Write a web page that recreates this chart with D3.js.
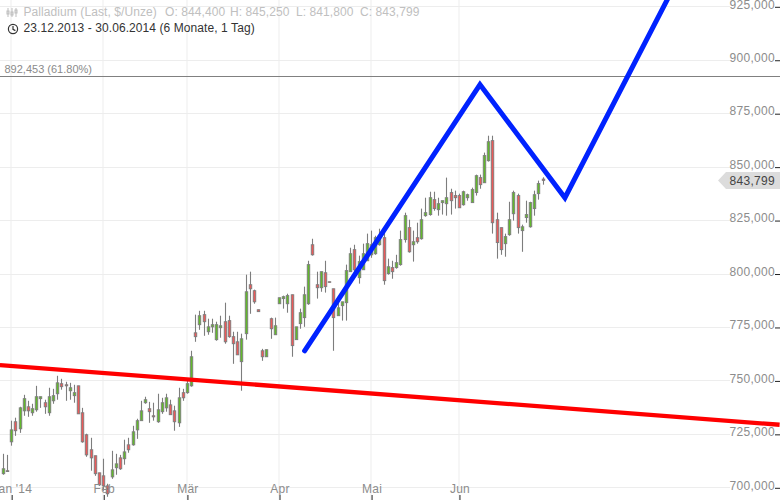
<!DOCTYPE html>
<html><head><meta charset="utf-8">
<script src="https://cdn.jsdelivr.net/npm/d3@7"></script>
<style>html,body{margin:0;padding:0;background:#fff}svg{display:block}text{font-family:"Liberation Sans",Arial,sans-serif}</style>
</head><body><div id="c"></div>
<script>
const opens=[706.6,708,721.5,730.9,727.6,736,737.9,735.1,736.5,741.7,739.8,735.1,740.7,744,748.7,748.2,745.4,743.1,747.7,735.1,724.8,717.8,715,707,705.6,700.9,705.1,709.4,714,713.6,720.1,720.1,727.1,731.4,739.8,737,733.7,730.9,735.6,737.4,738.8,736,730.4,744.5,744.5,747.7,
772.5,776.3,781,773,775.3,769.3,774.9,777.7,778.2,770.7,768.3,759,772.1,795,792.2,783.3,764.1,761.3,779.1,771.6,786.1,788.5,786.1,790.3,769.3,776.8,779.6,786.1,813.7,795,793.6,800.6,796.4,793.1,780.5,785.2,786.6,801.1,811.4,798.3,802,806.2,809,809.5,813.7,817,800.2,803,803,804.4,816.1,821.7,813.7,817,816.5,827.3,827.8,834.8,830.1,833.4,832.9,838.1,836.7,836.7,832.4,835.7,833.4,838.1,845.1,842.7,853,862.4,825.4,821.7,814.2,818.4,828.2,836.7,820.3,826.4,822.1,830.6,837.6,844.4];
const highs=[715.9,715.4,731.4,732.8,737.9,743.5,740.7,739.3,747.7,742.6,741.2,746.8,746.3,752.4,751,749.6,749.1,748.2,747.7,737.4,725.3,723.4,715,707,713.6,701.9,717.3,715.9,715.4,722.5,723.4,729,732.3,740.7,742.6,740.2,739.8,744,742.1,744,741.2,738.4,746.8,746.3,750.1,764.1,
781,782.8,782.8,779.1,779.1,777.7,780.5,786.6,780.5,773,773,772.1,799.7,801.1,792.7,783.3,765,764.6,779.6,779.6,788.9,789.9,790.8,790.3,775.3,783.8,794.1,806.2,816.5,801.1,801.1,806.2,796.4,793.1,787.5,787,804.4,812.3,813.7,808.6,814.2,818.9,820.3,817.9,821.2,820.3,807.2,806.2,809,820.3,828.7,825.4,820.3,824,830.6,835.7,838.5,838.5,835.7,834.3,845.1,839.9,839,837.6,839,837.6,840.4,846.5,846.5,856.8,864.7,864.7,828.7,821.7,818.9,833.8,839,837.6,823.1,834.3,833.8,839,843.7,845.25];
const lows=[706.1,707.5,719.7,724.3,725.7,733.7,733.2,733.7,735.6,737.4,734.6,733.7,739.3,741.2,745.9,740.7,741.2,739.8,734.6,721.1,714.5,708,705.6,700.9,698.6,695.8,704.2,706.1,708.4,710.8,716.4,719.7,722.9,731.4,739.3,730.4,731.4,730.4,734.6,735.6,734.2,726.7,728.5,740.7,744,747.3,
768.3,773.9,771.1,771.6,772.5,768.8,770.2,767.4,770.2,758,762.2,745.4,769.3,781.4,786.1,782.4,759.4,761.3,769.7,771.6,786.1,783.8,781.9,761.3,769.3,774.4,775.3,785.6,808.6,788.5,791.7,791.3,796.1,764.1,780.5,778.2,778.2,801.1,800.6,795.5,802,806.2,807.6,809,813.3,795,799.7,797.8,802.5,803.9,814.7,810,805.8,814.2,816.1,826.8,827.3,829.6,827.3,827.8,827.3,827.8,830.6,831,832,834.3,833.4,836.7,839.9,842.7,852.6,818.9,807.2,809,808.1,817.9,825,818.9,810.4,824,821.7,827.3,834.8,841.8];
const closes=[708.9,707.6,727.1,726.7,737.4,741.7,736,737,742.6,742.6,737.9,742.6,743.1,749.1,747.3,747.7,746.8,744.5,734.6,721.5,715.4,714,706.6,701.4,700.9,697.2,708.4,711.2,708.9,716.8,717.8,726.2,731.4,736,741.2,735.6,733.2,736.5,739.8,742.1,734.2,730.9,742.1,742.1,748.7,761.3,
770.7,780.5,777.7,775.3,776.3,776.3,775.8,768.3,770.7,767.4,762.2,769.7,791.7,793.1,787,782.4,761.3,764.6,774.4,775.8,788.9,789.4,789.9,766.5,775.3,781.9,790.3,804.4,809,793.6,801.1,794.1,796.1,779.6,784.2,787,801.6,809.5,802,805.8,809.5,814.2,813.7,817,817.9,796.9,803.4,801.1,805.3,816.1,827.3,810.4,815.1,815.1,825.4,828.7,835.7,830.6,832.9,834.3,835.7,834.3,835.7,831,838.5,837.1,839.5,846,841.8,855.4,861.9,824,814.7,811.4,817.5,825.4,838.1,821.7,822.1,827.8,833.4,837.1,842.3,843.799];
const priceTicks=[700,725,750,775,800,825,850,875,900,925];
const monthSlots=[2,24,44,66,88,109];
const monthLabels=["Jan '14","Feb","Mär","Apr","Mai","Jun"];
const blueSlots=[72,113.9,134.2,158.8];
const bluePrices=[764.1,888.6,835.7,928.9];
const redSlots=[-0.8,185.5];
const redPrices=[757.4,729.5];
const fibPrice=892.453;
const lastPrice=843.799;

const W=780,H=500;
const fmt=v=>v.toFixed(3).replace(".",",");
const x=d3.scaleLinear().domain([-1,186]).range([-0.886,781.7]);
const y=d3.scaleLinear().domain([700,925]).range([487.8,6.8]);
const svg=d3.select("#c").append("svg").attr("width",W).attr("height",H);
const snap=v=>Math.floor(v)+0.5;

// grid
svg.append("g").selectAll("line").data(priceTicks).join("line")
 .attr("x1",0).attr("x2",W-50).attr("y1",d=>snap(y(d))).attr("y2",d=>snap(y(d))).attr("stroke","#ededed");
svg.append("g").selectAll("line").data(monthSlots).join("line")
 .attr("x1",d=>snap(x(d))-0.5).attr("x2",d=>snap(x(d))-0.5).attr("y1",0).attr("y2",H).attr("stroke","#ededed");

// candles
const idx=d3.range(closes.length);
const G="#7d7d7d";
const c=svg.append("g").selectAll("g").data(idx).join("g");
c.append("line").attr("x1",i=>snap(x(i))).attr("x2",i=>snap(x(i)))
 .attr("y1",i=>y(highs[i])).attr("y2",i=>y(lows[i])).attr("stroke",G).attr("stroke-width",1.1);
c.append("rect").attr("x",i=>snap(x(i))-1.25).attr("width",2.5)
 .attr("y",i=>y(Math.max(opens[i],closes[i])))
 .attr("height",i=>Math.abs(y(opens[i])-y(closes[i])))
 .attr("fill",i=>closes[i]>=opens[i]?"#62b82c":"#ea5a5a").attr("stroke",G).attr("stroke-width",0.9);

// axes
const ya=svg.append("g").attr("transform",`translate(${W},0)`)
 .call(d3.axisLeft(y).tickValues(priceTicks).tickSize(5).tickPadding(0).tickFormat(fmt));
ya.select(".domain").remove();
ya.selectAll("line").attr("stroke","#222");
ya.selectAll("text").attr("fill","#8c8c8c").attr("font-size",12).attr("letter-spacing",0.3).attr("dy","0.1em");
const xa=svg.append("g").attr("transform",`translate(0,${H})`)
 .call(d3.axisTop(x).tickValues(monthSlots).tickSize(5).tickPadding(2).tickFormat((d,i)=>monthLabels[i]));
xa.select(".domain").remove();
xa.selectAll("line").attr("stroke","#222");
xa.selectAll("text").attr("fill","#8c8c8c").attr("font-size",12).attr("letter-spacing",0.2);

// fibonacci line
svg.append("line").attr("x1",0).attr("x2",W).attr("y1",snap(y(fibPrice))).attr("y2",snap(y(fibPrice))).attr("stroke","#808080");
svg.append("text").attr("x",4.5).attr("y",y(fibPrice)-3).attr("fill","#8a8a8a").attr("font-size",11).text(fmt(fibPrice)+" (61.80%)");

// trend lines
const ln=d3.line().x(d=>x(d[0])).y(d=>y(d[1]));
svg.append("path").attr("d",ln(d3.zip(redSlots,redPrices))).attr("fill","none").attr("stroke","#ff0000").attr("stroke-width",4.3);
svg.append("path").attr("d",ln(d3.zip(blueSlots,bluePrices))).attr("fill","none").attr("stroke","#0022ff").attr("stroke-width",5).attr("stroke-linecap","round").attr("stroke-linejoin","miter");

// last price tag
const ly=y(lastPrice);
svg.append("path").attr("d",`M718,${ly}L726,${ly-8.5}H${W}V${ly+8.5}H726Z`).attr("fill","#dcdcdc");
svg.append("text").attr("x",775).attr("y",ly+4.5).attr("text-anchor","end").attr("fill","#444").attr("font-size",12).attr("letter-spacing",0.3).text(fmt(lastPrice));

// header
const t=(xp,yp,s,col)=>svg.append("text").attr("x",xp).attr("y",yp).attr("fill",col).attr("font-size",12).attr("letter-spacing",0.08).text(s);
t(23.5,16,"Palladium (Last, $/Unze)","#c0c0c0");
t(165,16,"O: 844,400","#c0c0c0");
t(230,16,"H: 845,250","#c0c0c0");
t(296,16,"L: 841,800","#c0c0c0");
t(360,16,"C: 843,799","#c0c0c0");
t(23.5,32,"23.12.2013 - 30.06.2014 (6 Monate, 1 Tag)","#333");
// icons
const ic=svg.append("g").attr("stroke","#bdbdbd").attr("fill","none");
[8,12,16].forEach((px,k)=>{
 ic.append("line").attr("x1",px).attr("x2",px).attr("y1",8).attr("y2",17);
 ic.append("rect").attr("x",px-1).attr("y",[11,12,10][k]).attr("width",2).attr("height",3);
});
const cl=svg.append("g").attr("stroke","#333").attr("fill","none").attr("stroke-width",1.2);
cl.append("circle").attr("cx",13).attr("cy",29).attr("r",4.6);
cl.append("path").attr("d","M13,26V29.3L15.4,30.6");
</script></body></html>
